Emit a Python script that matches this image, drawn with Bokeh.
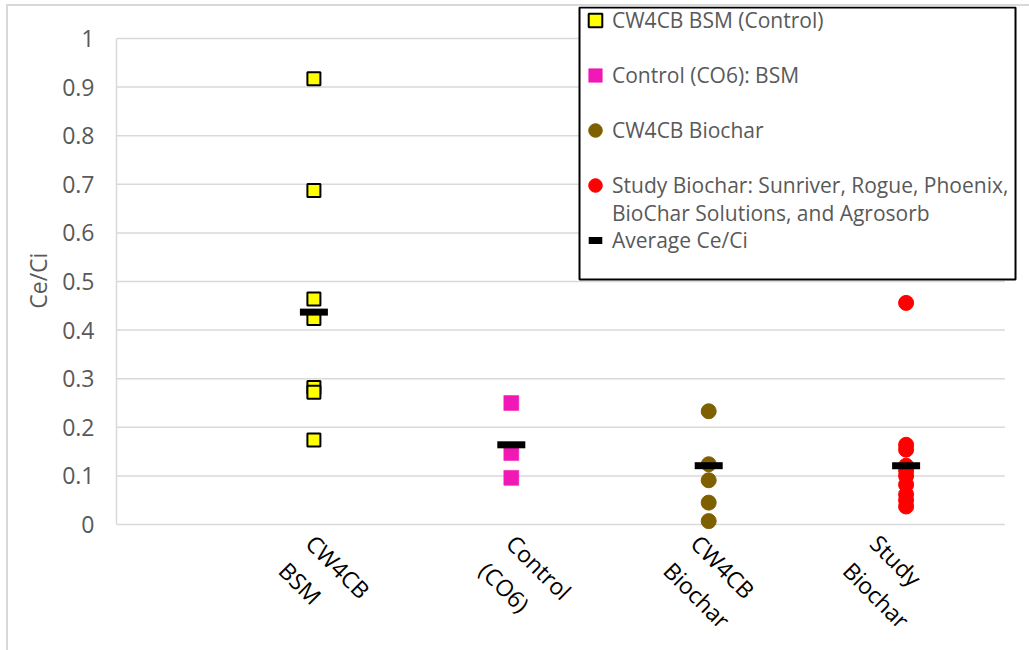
import math
from bokeh.plotting import figure
from bokeh.models import Range1d, FixedTicker, Legend, LegendItem, BoxAnnotation
from bokeh.core.properties import value
from bokeh.embed import file_html
from bokeh.resources import INLINE

# ---- data ----
categories = ["CW4CB\nBSM", "Control\n(CO6)", "CW4CB\nBiochar", "Study\nBiochar"]
cat_pos = [1, 2, 3, 4]

bsm_values = [0.917, 0.687, 0.464, 0.424, 0.282, 0.272, 0.174]
control_values = [0.250, 0.147, 0.096]
cw4cb_biochar_values = [0.233, 0.124, 0.091, 0.045, 0.007]
study_biochar_values = [0.456, 0.164, 0.154, 0.121, 0.111, 0.100, 0.082, 0.062, 0.050, 0.037]
average_values = [0.437, 0.164, 0.121, 0.121]

y_ticks = [0, 0.1, 0.2, 0.3, 0.4, 0.5, 0.6, 0.7, 0.8, 0.9, 1.0]
y_tick_labels = ["0", "0.1", "0.2", "0.3", "0.4", "0.5", "0.6", "0.7", "0.8", "0.9", "1"]

y_axis_title = "Ce/Ci"
legend_labels = [
    "CW4CB BSM (Control)",
    "Control (CO6): BSM",
    "CW4CB Biochar",
    "Study Biochar: Sunriver, Rogue, Phoenix,",
    "BioChar Solutions, and Agrosorb",
    "Average Ce/Ci",
]

FONT = "Open Sans"
GRAY_TEXT = "#595959"
GRID = "#D9D9D9"

# layout (pixels): 197.4 px per category, 486 px per unit of Ce/Ci
X_END = 4.5643
Y_START, Y_END = -0.25926, 1.06584
LABEL_DX = [-17, -14, -27, -45]   # pixel nudges of the rotated category labels

p = figure(
    frame_width=901, frame_height=644,
    x_range=Range1d(0, X_END), y_range=Range1d(Y_START, Y_END),
    output_backend="svg", toolbar_location=None,
    x_axis_location=None,
    min_border_left=108, min_border_right=12,
    min_border_top=0, min_border_bottom=0,
)
p.styles = {
    "margin-left": "6px", "margin-top": "4px",
    "border-left": "2px solid #D9D9D9", "border-top": "2px solid #D9D9D9",
}
p.outline_line_color = None
p.background_fill_color = "white"
p.border_fill_color = "white"
p.grid.visible = False

# horizontal gridlines at the y ticks, ending at the plot area's right edge
p.segment(x0=[0] * len(y_ticks), x1=[4.5] * len(y_ticks), y0=y_ticks, y1=y_ticks,
          line_color=GRID, line_width=1.5)

r_bsm = p.scatter([cat_pos[0]] * len(bsm_values), bsm_values, marker="square",
                  size=13, fill_color="#FFFF00", line_color="#000000", line_width=2)
r_ctrl = p.scatter([cat_pos[1]] * len(control_values), control_values, marker="square",
                   size=15, fill_color="#F218B5", line_color="#F218B5", line_width=0.5)
r_bio = p.scatter([cat_pos[2]] * len(cw4cb_biochar_values), cw4cb_biochar_values,
                  marker="circle", size=15, fill_color="#7F6000", line_color="#7F6000")
r_study = p.scatter([cat_pos[3]] * len(study_biochar_values), study_biochar_values,
                    marker="circle", size=15, fill_color="#FF0000", line_color="#FF0000")
r_avg = p.scatter(cat_pos, average_values, marker="dash", size=28,
                  line_width=7, line_color="#000000")
r_blank = p.scatter(x=[], y=[], marker="circle", fill_alpha=0, line_alpha=0)

# category labels, rotated 45 degrees below the axis
p.text(x=cat_pos, y=[-0.0576] * len(cat_pos), text=categories, angle=-math.pi / 4,
       x_offset=LABEL_DX, text_align="left", text_baseline="middle",
       text_font=value(FONT), text_font_size="23px", text_color="#000000",
       text_line_height=1.2)

# legend frame
p.add_layout(BoxAnnotation(left=2.3455, right=4.5542, bottom=0.5041, top=1.0638,
                           fill_color="white", fill_alpha=1.0,
                           line_color="#000000", line_alpha=1.0, line_width=2))

common = dict(
    orientation="vertical", padding=0, margin=0,
    glyph_width=34, glyph_height=34, label_standoff=0,
    label_width=20, label_height=20,
    label_text_font=FONT, label_text_font_size="21px", label_text_color=GRAY_TEXT,
    border_line_color=None, background_fill_alpha=0.0,
)
legend_main = Legend(
    items=[
        LegendItem(label=legend_labels[0], renderers=[r_bsm]),
        LegendItem(label=legend_labels[1], renderers=[r_ctrl]),
        LegendItem(label=legend_labels[2], renderers=[r_bio]),
        LegendItem(label=legend_labels[3], renderers=[r_study]),
        LegendItem(label=legend_labels[5], renderers=[r_avg]),
    ],
    location=(462, 393), spacing=21, **common,
)
legend_line2 = Legend(
    items=[LegendItem(label=legend_labels[4], renderers=[r_blank])],
    location=(462, 420), spacing=0, **common,
)
p.add_layout(legend_main)
p.add_layout(legend_line2)

# y axis
p.yaxis.bounds = (0, 1)
p.yaxis.ticker = FixedTicker(ticks=y_ticks)
p.yaxis.major_label_overrides = {t: l for t, l in zip(y_ticks, y_tick_labels)}
p.yaxis.major_label_text_font = FONT
p.yaxis.major_label_text_font_size = "23px"
p.yaxis.major_label_text_color = GRAY_TEXT
p.yaxis.major_tick_out = 0
p.yaxis.major_tick_in = 0
p.yaxis.minor_tick_out = 0
p.yaxis.minor_tick_in = 0
p.yaxis.axis_line_color = GRID
p.yaxis.axis_line_width = 1.5
p.yaxis.major_label_standoff = 22
# non-breaking spaces before the title centre it on the 0-1 part of the axis
p.yaxis.axis_label = "\u00a0" * 16 + y_axis_title
p.yaxis.axis_label_text_font = FONT
p.yaxis.axis_label_text_font_size = "23px"
p.yaxis.axis_label_text_font_style = "normal"
p.yaxis.axis_label_text_color = GRAY_TEXT
p.yaxis.axis_label_standoff = 5

open("out.html", "w").write(file_html(p, INLINE))
